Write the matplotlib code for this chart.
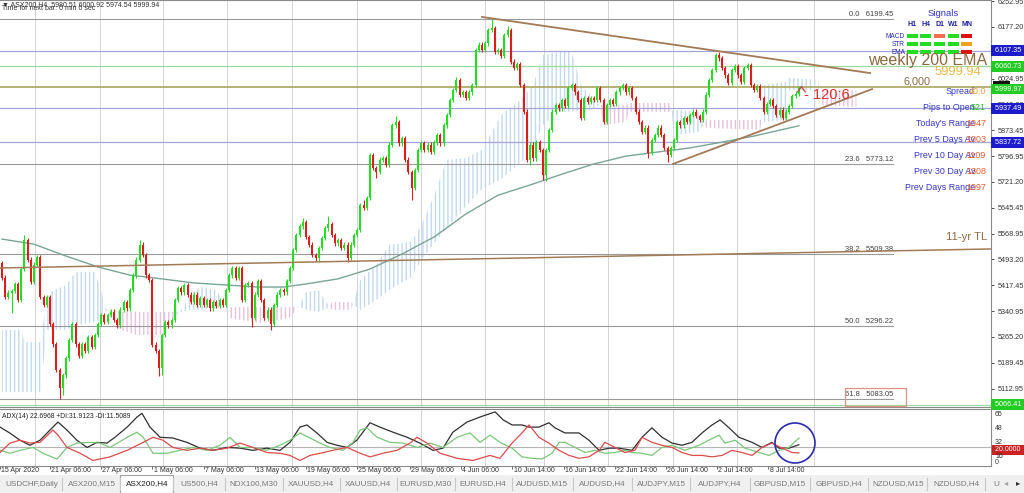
import matplotlib
matplotlib.use("Agg")
import matplotlib.pyplot as plt
from matplotlib.transforms import blended_transform_factory
from matplotlib.patches import Rectangle, Ellipse
from matplotlib.path import Path

# ---------------- data ----------------
first_open = 5483
closes = [
    5439, 5383, 5395, 5400, 5420, 5374, 5465, 5550, 5492, 5428,
    5478, 5499, 5383, 5360, 5383, 5303, 5244, 5168, 5115, 5153,
    5203, 5256, 5303, 5244, 5209, 5244, 5224, 5265, 5236, 5271,
    5303, 5330, 5309, 5330, 5339, 5315, 5300, 5345, 5368, 5350,
    5403, 5447, 5492, 5536, 5506, 5447, 5433, 5242, 5224, 5174,
    5271, 5309, 5300, 5315, 5374, 5409, 5397, 5418, 5389, 5368,
    5389, 5359, 5380, 5359, 5374, 5350, 5368, 5356, 5374, 5359,
    5403, 5447, 5468, 5439, 5468, 5374, 5418, 5424, 5321, 5389,
    5430, 5374, 5321, 5345, 5303, 5359, 5389, 5403, 5397, 5430,
    5468, 5521, 5565, 5591, 5603, 5559, 5536, 5506, 5497, 5527,
    5556, 5585, 5597, 5565, 5541, 5550, 5527, 5536, 5497, 5536,
    5565, 5580, 5653, 5645, 5674, 5800, 5762, 5750, 5786, 5791,
    5771, 5830, 5888, 5897, 5835, 5850, 5786, 5750, 5703, 5756,
    5815, 5835, 5815, 5830, 5809, 5838, 5859, 5835, 5888, 5918,
    5962, 5991, 6021, 5977, 5985, 5968, 5985, 6006, 6109, 6124,
    6109, 6129, 6168, 6173, 6103, 6109, 6091, 6153, 6168, 6074,
    6056, 6068, 6006, 5927, 5786, 5830, 5791, 5838, 5815, 5741,
    5815, 5874, 5927, 5947, 5938, 5962, 5944, 5997, 6006, 5985,
    5962, 5909, 5968, 5956, 5968, 5962, 5997, 5962, 5897, 5947,
    5962, 5950, 5985, 5997, 6006, 5985, 5997, 5968, 5927, 5897,
    5868, 5880, 5806, 5844, 5859, 5880, 5859, 5821, 5800, 5821,
    5844, 5897, 5888, 5909, 5897, 5918, 5927, 5915, 5903, 5927,
    5977, 6021, 6050, 6094, 6085, 6056, 6035, 6012, 6050, 6062,
    6035, 6015, 6056, 6065, 6006, 5991, 6003, 5968, 5927, 5950,
    5962, 5944, 5918, 5933, 5909, 5927, 5944, 5974, 5980.51, 5999.94,
]
wick_high = {7: 5565, 43: 5550, 94: 5615, 102: 5620, 113: 5668, 123: 5915,
             142: 6030, 153: 6199.45, 158: 6180, 224: 6103, 249: 6000.92}
wick_low = {3: 5335, 18: 5083.05, 19: 5095, 49: 5150, 50: 5153, 78: 5295,
            84: 5285, 108: 5485, 117: 5733, 128: 5668, 165: 5771, 169: 5727,
            170: 5724, 202: 5791, 208: 5780, 249: 5974.54}

ema_bars = [0, 10, 20, 30, 40, 50, 60, 70, 80, 88, 95, 105, 115, 125, 135,
            145, 155, 165, 175, 185, 195, 205, 215, 225, 235, 249]
ema_vals = [5553, 5538, 5503, 5471, 5447, 5436, 5424, 5418, 5412, 5412, 5421,
            5436, 5465, 5509, 5559, 5627, 5682, 5712, 5744, 5774, 5797, 5809,
            5821, 5838, 5856, 5886]

cloud_bars = [0, 6, 7, 12, 14, 15, 20, 23, 29, 31, 32, 34, 37, 42, 51, 53, 56,
              59, 62, 67, 69, 71, 81, 90, 93, 95, 99, 102, 103, 109, 110, 112,
              117, 121, 128, 131, 135, 139, 145, 150, 156, 162, 166, 169, 174,
              178, 181, 184, 187, 188, 195, 196, 209, 210, 218, 220, 237, 238,
              245, 246, 255, 256, 267]
span_a = [5286, 5286, 5250, 5250, 5374, 5397, 5418, 5456, 5456, 5403, 5359,
          5321, 5286, 5271, 5271, 5309, 5345, 5389, 5412, 5403, 5374, 5321,
          5306, 5321, 5359, 5397, 5403, 5359, 5345, 5345, 5374, 5433, 5477,
          5536, 5545, 5594, 5680, 5786, 5791, 5815, 5918, 5962, 6006, 6094,
          6103, 6103, 6006, 5977, 5941, 5888, 5897, 5927, 5927, 5933, 5927,
          5880, 5874, 6006, 6015, 6027, 6021, 5947, 5941]
span_b = [5103, 5103, 5103, 5103, 5286, 5286, 5286, 5300, 5309, 5315, 5339,
          5345, 5339, 5339, 5339, 5339, 5339, 5345, 5345, 5350, 5356, 5353,
          5353, 5353, 5353, 5345, 5339, 5350, 5368, 5368, 5359, 5345, 5374,
          5403, 5442, 5490, 5540, 5585, 5650, 5700, 5730, 5775, 5821, 5888,
          5927, 5927, 5933, 5933, 5947, 5947, 5947, 5953, 5953, 5859, 5868,
          5903, 5903, 5897, 5903, 5991, 5991, 5991, 5991]

fib_levels = ["0.0", "23.6", "38.2", "50.0", "61.8"]
fib_prices = [6199.45, 5773.12, 5509.38, 5296.22, 5083.05]

level_prices = [6107.35, 6060.73, 5937.49, 5837.72, 5066.41]
level_kinds = ["blue", "green", "blue", "blue", "green"]
round_level = 6000.0
bid_price = 5999.97

upper_tl = ([150.0, 271.3], [6206, 6041])
lower_tl = ([209.7, 271.9], [5774, 5994])
long_tl = ([-0.6, 309.4], [5468, 5524])

price_ticks = [6252.95, 6177.20, 6024.95, 5949.20, 5873.45, 5796.95, 5721.20,
               5645.45, 5568.95, 5493.20, 5417.45, 5340.95, 5265.20, 5189.45,
               5112.95]

date_labels = ["15 Apr 2020", "21 Apr 06:00", "27 Apr 06:00", "1 May 06:00",
               "7 May 06:00", "13 May 06:00", "19 May 06:00", "25 May 06:00",
               "29 May 06:00", "4 Jun 06:00", "10 Jun 14:00", "16 Jun 14:00",
               "22 Jun 14:00", "26 Jun 14:00", "2 Jul 14:00", "8 Jul 14:00"]
date_label_bars = [-0.6, 15, 31, 47, 63, 79, 95, 111, 127.5, 143.5, 159.5,
                   175.5, 191.5, 207.5, 223.5, 239.5]
week_start_bars = [10.3, 30.6, 50.3, 70.3, 90.6, 110.9, 130.9, 150.9, 169.4,
                   189.4, 209.6, 229.6, 253.8]

adx_bars = [-0.6, 2.5, 5.6, 8.75, 11.9, 15, 17.5, 20.3, 23.4, 26.6, 29.7, 32.8,
            35.3, 39.1, 42.2, 43.75, 46.25, 49.4, 53.4, 57.8, 61.9, 65.9, 70.3,
            74.4, 78.4, 82.8, 86.9, 90, 93.1, 95.3, 98.4, 101.6, 104.7, 107.8,
            110.9, 115, 118.1, 122.2, 126.6, 130.6, 134.7, 137.8, 140.9, 145.3,
            149.4, 154.1, 156.6, 159.4, 162.5, 164.7, 167.8, 170.9, 172.8,
            175.9, 180.3, 183.4, 186.6, 189.7, 192.8, 196.9, 200, 203.1,
            206.25, 209.4, 212.5, 215.6, 218.75, 221.9, 224.4, 227.2, 230.3,
            234.4, 237.5, 240.6, 242.8, 245.9, 249]
adx_vals = [47, 38.7, 29, 22, 29, 43, 54, 43, 29, 19, 26, 25, 33, 47, 61, 66,
            47, 33, 32, 26, 18, 15, 19, 18, 15, 18, 15, 26, 47, 50, 39, 26, 22,
            19, 29, 53, 47, 40, 33, 25, 15, 18, 40, 54, 61, 68, 57, 50, 50, 47,
            47, 53, 46, 39, 39, 29, 15, 18, 18, 15, 33, 46, 33, 25, 22, 26, 39,
            50, 57, 46, 33, 26, 19, 26, 18, 18, 22.6968]
pdi_bars = [-0.6, 2.5, 5.6, 9.7, 12.8, 17.2, 20.3, 23.4, 27.5, 30.6, 33.75,
            39.1, 42.2, 44.1, 47.2, 51.6, 55.6, 59.7, 64.1, 68.1, 71.25, 74.4,
            78.4, 82.8, 86.9, 90, 93.1, 96.25, 99.4, 102.5, 106.6, 109.7,
            111.9, 114.1, 117.2, 121.25, 125.3, 129.7, 133.75, 137.8, 142.2,
            146.25, 149.4, 152.5, 155.6, 159.4, 162.5, 165.6, 168.75, 171.9,
            174.1, 175.9, 179.1, 182.2, 185.3, 188.4, 191.6, 194.7, 196.9,
            200, 203.1, 206.25, 209.4, 213.4, 217.8, 220.9, 224.1, 225.9,
            229.1, 232.2, 236.6, 239.7, 242.8, 245.9, 249]
pdi_vals = [15, 11, 15, 19, 11, 3, 19, 25, 26, 25, 19, 33, 40, 33, 11, 11, 15,
            19, 15, 22, 33, 19, 19, 15, 22, 29, 39, 32, 25, 19, 15, 26, 43, 46,
            33, 26, 25, 19, 25, 19, 33, 39, 26, 36, 26, 18, 6, 4, 3, 11, 26, 26,
            19, 12, 15, 11, 12, 15, 12, 11, 8, 19, 22, 15, 22, 29, 36, 25, 29,
            18, 12, 8, 15, 19, 31.9123]
mdi_bars = [-0.6, 2.5, 5.6, 8.75, 11.9, 15.9, 17.5, 20.3, 24.4, 28.4, 33.75,
            39.1, 44.1, 47.2, 50.3, 53.4, 57.8, 61.9, 65.9, 70.3, 74.4, 78.4,
            82.8, 86.9, 90, 93.1, 96.25, 99.4, 103.4, 107.8, 111.9, 115, 119.1,
            123.4, 127.5, 129.7, 132.8, 136.9, 142.2, 147.2, 152.5, 155.6,
            159.4, 162.5, 164.7, 167.8, 170.9, 174.1, 177.2, 180.3, 183.4,
            186.6, 188.4, 191.6, 194.7, 197.8, 200, 203.1, 206.25, 209.4,
            212.5, 215.6, 218.75, 221.9, 225, 228.1, 231.25, 234.4, 237.5,
            240.6, 243.75, 246.9, 249]
mdi_vals = [12, 25, 29, 25, 26, 43, 36, 19, 11, 1, 6, 15, 26, 33, 29, 19, 15,
            18, 15, 18, 25, 19, 12, 11, 8, 1, 8, 11, 15, 19, 11, 6, 11, 15, 25,
            33, 25, 11, 4, 1, 8, 4, 25, 39, 50, 33, 25, 15, 8, 4, 6, 15, 26, 19,
            12, 15, 33, 26, 22, 19, 12, 8, 8, 6, 8, 15, 12, 8, 19, 25, 18, 12,
            11.5089]
adx_level = 20
adx_axis_labels = ["65", "48", "32", "16", "0"]

tabs = ["USDCHF,Daily", "ASX200,M15", "ASX200,H4", "US500,H4", "NDX100,M30",
        "XAUUSD,H4", "XAUUSD,H4", "EURUSD,M30", "EURUSD,H4", "AUDUSD,M15",
        "AUDUSD,H4", "AUDJPY,M15", "AUDJPY,H4", "GBPUSD,M15", "GBPUSD,H4",
        "NZDUSD,M15", "NZDUSD,H4", "U"]
signal_cols = ["H1", "H4", "D1", "W1", "MN"]
signal_rows = ["MACD", "STR", "EMA"]
signal_colors = [["#22dd22", "#22dd22", "#f07050", "#22dd22", "#dd1111"],
                 ["#22dd22", "#22dd22", "#22dd22", "#22dd22", "#f0a020"],
                 ["#22dd22", "#22dd22", "#22dd22", "#22dd22", "#dd1111"]]
info_labels = ["Spread", "Pips to Open", "Today's Range", "Prev 5 Days Av",
               "Prev 10 Day Av", "Prev 30 Day Av", "Prev Days Range"]
info_values = ["40.0", "521", "1047", "1003", "1109", "1308", "1097"]
info_value_colors = ["#f0a030", "#22bb22", "#f05a28", "#f05a28", "#f05a28",
                     "#f05a28", "#f05a28"]

# ---------------- figure ----------------
W, H = 1024, 493
plt.rcParams["font.family"] = ["Liberation Sans", "DejaVu Sans"]
fig = plt.figure(figsize=(W / 100, H / 100), dpi=100)
fig.patch.set_facecolor("white")


def rect(x0, y0, x1, y1):
    return [x0 / W, 1 - y1 / H, (x1 - x0) / W, (y1 - y0) / H]


def ft(x, y, s, **kw):
    kw.setdefault("va", "center")
    return fig.text(x / W, 1 - y / H, s, **kw)


PLOT_R = 991
ax = fig.add_axes(rect(0, 0, PLOT_R, 407))
axd = fig.add_axes(rect(0, 409, PLOT_R, 466))
xlim = (-0.625, (PLOT_R - 2) / 3.2)
for a in (ax, axd):
    a.set_xlim(*xlim)
    a.set_facecolor("white")
    for s in a.spines.values():
        s.set_color("#8a8a8a")
        s.set_linewidth(0.8)
    a.spines["left"].set_visible(False)
    for b in week_start_bars:
        a.axvline(b, color="#d4d4d4", lw=0.7, zorder=0)

ax.set_ylim(5059.3, 6255.9)
axd.set_ylim(-6.6, 72.0)

# cloud
ca = list(span_a)
cb = list(span_b)
ax.fill_between(cloud_bars, ca, cb, where=[a >= b for a, b in zip(ca, cb)],
                interpolate=True, facecolor="none", edgecolor="#c3d9ee",
                hatch="||||", lw=0, zorder=1)
ax.fill_between(cloud_bars, ca, cb, where=[a < b for a, b in zip(ca, cb)],
                interpolate=True, facecolor="none", edgecolor="#e6c2dd",
                hatch="||||", lw=0, zorder=1)

# fib lines
fib_end = (893 - 2) / 3.2
for lv, pr in zip(fib_levels, fib_prices):
    ax.plot([xlim[0], fib_end], [pr, pr], color="#9a9a9a", lw=0.8, zorder=2)
    ax.text(fib_end, pr + 4, f"{lv}   {pr:.2f}", ha="right", va="bottom",
            fontsize=5.4, color="#404040", zorder=5)

# level lines
kind_col = {"blue": "#a4a4d8", "green": "#9edc9e"}
for pr, k in zip(level_prices, level_kinds):
    ax.axhline(pr, color=kind_col[k], lw=0.9, zorder=2)
ax.axhline(round_level, color="#a9a65a", lw=1.2, zorder=2)

# EMA
ax.plot(ema_bars, ema_vals, color="#7aa596", lw=1.0, zorder=3)

# candles
opens = [first_open] + closes[:-1]
xs = list(range(len(closes)))
cols, lows, highs, bottoms, heights = [], [], [], [], []
for i, (o, c) in enumerate(zip(opens, closes)):
    col = "#22dd22" if c >= o else "#e01b1b"
    cols.append(col)
    highs.append(wick_high.get(i, max(o, c) + 7))
    lows.append(wick_low.get(i, min(o, c) - 7))
    bottoms.append(min(o, c))
    heights.append(max(abs(c - o), 2.0))
ax.vlines(xs, lows, highs, colors=cols, lw=0.8, zorder=4)
ax.bar(xs, heights, bottom=bottoms, width=0.6, color=cols, lw=0, zorder=4)

# trendlines
tl_col = "#a27a55"
ax.plot(*upper_tl, color=tl_col, lw=1.3, zorder=5)
ax.plot(*lower_tl, color=tl_col, lw=1.3, zorder=5)
ax.plot(*long_tl, color=tl_col, lw=1.1, zorder=5)

# caret arrow
caret = Path([(-1, -0.7), (0, 0.7), (1, -0.7)],
             [Path.MOVETO, Path.LINETO, Path.LINETO])
ax.plot([249.7], [5994], marker=caret, ms=6, mfc="none", mec="#c04a4a",
        mew=1.0, zorder=6)

# right price axis
ax.yaxis.tick_right()
ax.set_yticks(price_ticks)
ax.set_yticklabels([f"{p:.2f}" for p in price_ticks])
ax.tick_params(axis="y", labelsize=5.2, colors="#333333", length=2, pad=3,
               width=0.6)
ax.tick_params(axis="x", bottom=False, labelbottom=False)
trans = blended_transform_factory(ax.transAxes, ax.transData)
box_col = {"blue": "#1c1ccc", "green": "#22cc22"}
for pr, k in zip(level_prices, level_kinds):
    ax.text(1.002, pr, f" {pr:.2f} ", transform=trans, ha="left",
            va="center", fontsize=5.2, color="white", clip_on=False,
            zorder=10,
            bbox=dict(boxstyle="square,pad=0.25", fc=box_col[k], ec="none"))
ax.text(1.002, bid_price + 10, "                 ", transform=trans,
        ha="left", va="center", fontsize=2.5, clip_on=False, zorder=10,
        bbox=dict(boxstyle="square,pad=0.1", fc="#111111", ec="none"))
ax.text(1.002, bid_price - 6, f" {bid_price:.2f} ", transform=trans,
        ha="left", va="center", fontsize=5.2, color="white", clip_on=False,
        zorder=10,
        bbox=dict(boxstyle="square,pad=0.25", fc="#22cc22", ec="none"))

# ADX panel
axd.axhline(adx_level, color="#b5b5b5", lw=0.8, zorder=1)
axd.plot(adx_bars, adx_vals, color="#303030", lw=0.9, zorder=3)
axd.plot(pdi_bars, pdi_vals, color="#78c878", lw=0.9, zorder=3)
axd.plot(mdi_bars, mdi_vals, color="#dd4b4b", lw=0.9, zorder=3)
axd.set_yticks([])
axd.set_xticks(date_label_bars)
axd.set_xticklabels([])
axd.tick_params(axis="x", length=2, width=0.6, colors="#555555",
                direction="out")
tdate = blended_transform_factory(axd.transData, fig.transFigure)
for b, lab in zip(date_label_bars, date_labels):
    axd.text(b + 0.4, 1 - 470.5 / H, lab, transform=tdate, ha="left",
             va="center", fontsize=5.0, color="#333333", clip_on=False)
axd.text(0.002, 0.93, "ADX(14) 22.6968 +DI:31.9123 -DI:11.5089",
         transform=axd.transAxes, fontsize=4.9, color="#222222", va="top")
transd = blended_transform_factory(axd.transAxes, axd.transData)
axd.text(1.002, adx_level - 4.5, " 20.0000 ", transform=transd, ha="left",
         va="center", fontsize=5.0, color="white", clip_on=False, zorder=10,
         bbox=dict(boxstyle="square,pad=0.2", fc="#cc2222", ec="none"))
for txt, yy in zip(adx_axis_labels, [414, 428, 442, 457, 462]):
    ft(995, yy, txt, fontsize=5.0, color="#333333")

# ---- texts on the chart ----
ft(2, 4.5, "\u25bc ASX200,H4  5980.51 6000.92 5974.54 5999.94", fontsize=5.0,
   color="#333333")
ft(2, 8.5, "Time for next bar: 0 min 0 sec", fontsize=5.0, color="#333333")

ft(868, 60, "weekly 200 EMA", fontsize=11.5, color="#8c6a42")
ft(935, 72, "5999.94", fontsize=9.4, color="#f0b848")
ft(903, 81, "6,000", fontsize=7.8, color="#8c6a42")
ft(804, 95, "- 120:6", fontsize=10.5, color="#e03030")
ft(946, 237, "11-yr TL", fontsize=8.2, color="#8c6a42")

# signals panel
ft(943, 13, "Signals", fontsize=6.8, color="#3535c8", ha="center")
col_x = [912, 925.5, 939.5, 953, 966.5]
for cx, name in zip(col_x, signal_cols):
    ft(cx, 24, name, fontsize=5.0, color="#2020a0", ha="center",
       fontweight="bold")
row_y = [36, 44, 52]
for ry, name, row_cols in zip(row_y, signal_rows, signal_colors):
    ft(905, ry, name, fontsize=4.7, color="#2828b0", ha="right")
    for cx, c in zip(col_x, row_cols):
        fig.add_artist(Rectangle(((cx - 5.5) / W, 1 - (ry + 1.8) / H),
                                 11 / W, 3.6 / H, transform=fig.transFigure,
                                 fc=c, ec="none"))

info_y = [92, 108, 124, 140, 156, 172, 188]
for yy, lab, val, vc in zip(info_y, info_labels, info_values,
                            info_value_colors):
    ft(975, yy, lab, fontsize=6.4, color="#3535c8", ha="right")
    ft(986, yy, val, fontsize=6.4, color=vc, ha="right")

# 61.8 box
fig.add_artist(Rectangle((845 / W, 1 - 406 / H), 61 / W, 18 / H,
                         transform=fig.transFigure, fc="none",
                         ec="#e09282", lw=0.9))

# circle
fig.add_artist(Ellipse((795 / W, 1 - 443 / H), 40 / W, 40 / H,
                       transform=fig.transFigure, fc="none", ec="#2a2ab0",
                       lw=1.2))

# tab bar
axt = fig.add_axes(rect(0, 475, W, H))
axt.set_xlim(0, W)
axt.set_ylim(H, 475)
axt.axis("off")
axt.add_patch(Rectangle((0, 475), W, 18, fc="#f0f0f0", ec="none"))
tab_centers = [32, 92, 147, 199, 254, 311, 368, 426, 483, 542, 602, 661, 720,
               780, 839, 898, 956, 996]
tab_seps = [62, 120, 173, 225, 283, 340, 397, 455, 512, 573, 632, 690, 750,
            810, 868, 927, 985]
axt.add_patch(Rectangle((120, 475), 53, 18, fc="white", ec="#a0a0a0",
                        lw=0.8))
for sx in tab_seps:
    axt.plot([sx, sx], [478, 490], color="#c8c8c8", lw=0.8)
for k, (cx, name) in enumerate(zip(tab_centers, tabs)):
    sel = k == 2
    axt.text(cx, 484, name, ha="center", va="center", fontsize=5.9,
             color="#202020" if sel else "#7a7a7a")
axt.text(1006, 484, "\u25c2", ha="center", va="center", fontsize=6,
         color="#a0a0a0")
axt.text(1018, 484, "\u25b8", ha="center", va="center", fontsize=6,
         color="#303030")

fig.savefig("out.png", dpi=100, facecolor="white")
